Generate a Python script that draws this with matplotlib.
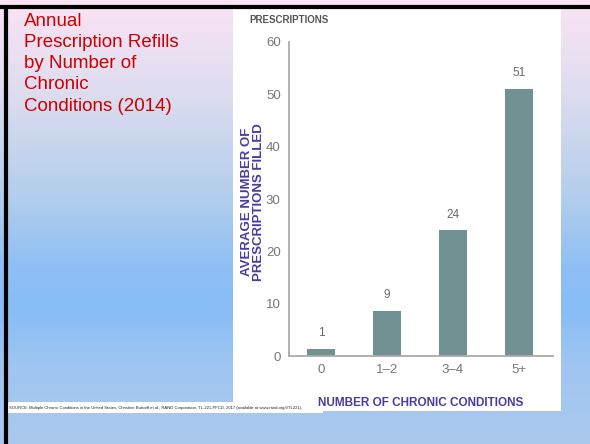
import matplotlib.pyplot as plt
import matplotlib.patches as patches
from matplotlib.colors import LinearSegmentedColormap
import numpy as np

# data
categories = ['0', '1\u20132', '3\u20134', '5+']
heights = [1.3, 8.6, 24, 51]
bar_labels = ['1', '9', '24', '51']
yticks = [0, 10, 20, 30, 40, 50, 60]

title = 'Annual\nPrescription Refills\nby Number of\nChronic\nConditions (2014)'
source = ('SOURCE: Multiple Chronic Conditions in the United States, Christine Buttorff et al., '
          'RAND Corporation, TL-221-PFCD, 2017 (available at www.rand.org/t/TL221).')

W, H = 590, 444
fig = plt.figure(figsize=(W / 100, H / 100), dpi=100)

# slide background gradient (top pink -> sky blue)
bg = fig.add_axes([0, 0, 1, 1])
stops = [(0.0, '#fbe4f5'), (0.22, '#dcdcef'), (0.45, '#b2cdec'), (0.6, '#8fbff5'),
         (0.7, '#88bdf7'), (0.82, '#9fc5f1'), (1.0, '#abc9ee')]
cmap = LinearSegmentedColormap.from_list('slide', stops)
grad = np.linspace(0, 1, 256).reshape(-1, 1)
bg.imshow(grad, aspect='auto', cmap=cmap, extent=[0, W, H, 0])
bg.set_xlim(0, W)
bg.set_ylim(H, 0)
bg.axis('off')

# black frame lines (top and left)
bg.plot([0, W], [7.5, 7.5], color='black', lw=3, solid_capstyle='butt')
bg.plot([5.5, 5.5], [6, H], color='black', lw=3, solid_capstyle='butt')

# white panel behind the chart
bg.add_patch(patches.Rectangle((233, 9), 328, 402, facecolor='white', edgecolor='none'))
# white strip behind the source line
bg.add_patch(patches.Rectangle((7, 402), 316, 11, facecolor='white', edgecolor='none'))
bg.text(9, 407.5, source, fontsize=3.0, color='#222222', va='center', ha='left',
        family='Liberation Sans')

bg.text(24, 13, title, fontsize=13.5, color='#cc0000', va='top', ha='left',
        family='Liberation Sans', linespacing=1.32)

bg.text(249, 20, 'PRESCRIPTIONS', fontsize=7, fontweight='bold', color='#555555',
        va='center', ha='left', family='Liberation Sans')

bg.text(253, 202, 'AVERAGE NUMBER OF\nPRESCRIPTIONS FILLED', fontsize=9.5,
        fontweight='bold', color='#4b3aa0', rotation=90, va='center', ha='center',
        family='Liberation Sans', linespacing=1.0)

bg.text(421, 403, 'NUMBER OF CHRONIC CONDITIONS', fontsize=8.5, fontweight='bold',
        color='#4b3aa0', va='center', ha='center', family='Liberation Sans')

# the bar chart itself
ax = fig.add_axes([289 / W, 1 - 356 / H, (553 - 289) / W, (356 - 42) / H])
ax.patch.set_alpha(0)
x = np.arange(len(categories))
ax.bar(x, heights, width=0.42, color='#709292')
for xi, h, lab in zip(x, heights, bar_labels):
    ax.annotate(lab, (xi, h), xytext=(0, 7), textcoords='offset points',
                ha='center', va='bottom', fontsize=8.5, color='#666666',
                family='Liberation Sans')

ax.set_xlim(-0.485, 3.515)
ax.set_ylim(0, 60)
ax.set_yticks(yticks)
ax.set_xticks(x)
ax.set_xticklabels(categories)
ax.tick_params(length=0, labelsize=9.5, labelcolor='#777777', pad=6)
for lab in ax.get_xticklabels() + ax.get_yticklabels():
    lab.set_family('Liberation Sans')
for s in ['top', 'right']:
    ax.spines[s].set_visible(False)
for s in ['left', 'bottom']:
    ax.spines[s].set_color('#aaaaaa')
    ax.spines[s].set_linewidth(1.3)

fig.savefig('out.png', dpi=100)
